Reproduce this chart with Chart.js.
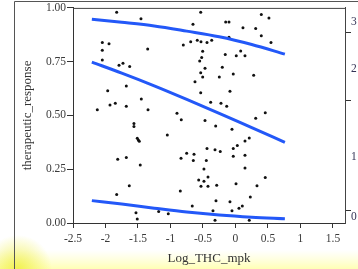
<!DOCTYPE html>
<html>
<head>
<meta charset="utf-8">
<script src="https://cdn.jsdelivr.net/npm/chart.js@4"></script>
<style>
html,body{margin:0;padding:0;background:#fff;}
#wrap{width:358px;height:269px;position:relative;}
</style>
</head>
<body>
<div id="wrap"><canvas id="c" width="358" height="269"></canvas></div>
<script>
// Scatter data: Log_THC_mpk vs therapeutic_response
const thcX = [-1.828,-1.454,-2.049,-1.946,-2.049,-1.351,-0.803,-2.049,-1.792,-1.731,-1.628,-1.680,-1.966,-1.449,-1.931,-1.849,-1.680,-2.126,-1.346,-0.900,
  -1.562,-1.562,-1.511,-1.495,-1.480,-1.049,-0.834,-1.812,-1.680,-1.465,-0.838,-1.634,-1.828,-0.849,-1.531,-1.511,-1.182,-1.034,
  -0.535,0.397,0.515,-0.654,-0.151,-0.100,0.115,0.311,0.397,-0.100,-0.689,-0.588,-0.531,-0.438,-0.366,0.546,-0.505,-0.157,0.012,0.080,0.146,
  -0.520,-0.551,-0.469,-0.203,-0.535,-0.505,-0.249,-0.034,0.280,-0.623,-0.535,-0.085,-0.382,-0.223,-0.135,0.458,-0.469,-0.305,-0.054,0.311,
  -0.751,-0.638,-0.649,-0.438,-0.315,-0.234,-0.449,-0.034,0.028,0.146,0.212,-0.034,0.146,-0.485,0.146,-0.423,-0.485,-0.566,-0.531,-0.423,
  -0.289,0.008,0.331,0.458,0.228,-0.665,-0.300,-0.085,-0.346,-0.054,0.054,0.105,-0.315,0.212];
const respY = [0.980,0.949,0.839,0.833,0.803,0.809,0.828,0.758,0.733,0.743,0.727,0.637,0.615,0.577,0.549,0.557,0.543,0.526,0.526,0.510,
  0.463,0.449,0.394,0.386,0.380,0.409,0.480,0.296,0.304,0.270,0.301,0.173,0.133,0.149,0.048,0.019,0.053,0.043,
  0.980,0.969,0.953,0.924,0.935,0.935,0.908,0.904,0.870,0.864,0.843,0.850,0.843,0.839,0.850,0.839,0.799,0.783,0.778,0.800,0.778,
  0.769,0.753,0.720,0.724,0.698,0.679,0.679,0.693,0.687,0.657,0.606,0.613,0.561,0.557,0.543,0.512,0.476,0.451,0.436,0.487,
  0.324,0.320,0.290,0.346,0.341,0.332,0.290,0.346,0.360,0.381,0.395,0.310,0.315,0.251,0.256,0.214,0.194,0.200,0.171,0.171,
  0.175,0.183,0.173,0.211,0.121,0.079,0.104,0.099,0.057,0.057,0.068,0.079,0.013,0.013];

// Fitted curve and confidence band
const curveX  = [-2.21, -1.75, -1.25, -0.75, -0.25, 0.25, 0.76];
const upperY  = [0.947, 0.933, 0.916, 0.892, 0.866, 0.830, 0.785];
const fitY    = [0.748, 0.697, 0.638, 0.575, 0.510, 0.443, 0.375];
const lowerY  = [0.104, 0.088, 0.069, 0.051, 0.037, 0.027, 0.020];

// Axis ticks
const xTicks = [-2.5, -2, -1.5, -1, -0.5, 0, 0.5, 1, 1.5];
const yTicks = [0, 0.25, 0.5, 0.75, 1];
const rightLabels = ['3', '2', '1', '0'];
const rightLabelVals = [0.935, 0.718, 0.306, 0.028];
const rightMarkVals = [0.884, 0.569, 0.056];

const SERIF = "'Liberation Serif', 'Times New Roman', serif";
const BLUE = 'rgb(35,88,248)';

const pts = thcX.map((x, i) => ({x: x, y: respY[i]}));
const mk = arr => curveX.map((x, i) => ({x: x, y: arr[i]}));

const rightTickList = rightLabelVals.map((v, i) => ({value: v, lab: rightLabels[i]}))
  .concat(rightMarkVals.map(v => ({value: v, lab: ''})));

const framePlugin = {
  id: 'frame',
  beforeDraw(chart) {
    const c = chart.ctx;
    const W = chart.width, H = chart.height;
    c.save();
    c.fillStyle = '#fff';
    c.fillRect(0, 0, W, H);
    let g = c.createLinearGradient(0, 250, 0, H);
    g.addColorStop(0, 'rgba(255,255,200,0)');
    g.addColorStop(1, 'rgba(255,255,180,1)');
    c.fillStyle = g;
    c.fillRect(0, 250, W, H - 250);
    const r = c.createRadialGradient(18, H, 0, 18, H, 34);
    r.addColorStop(0, 'rgba(240,240,70,0.9)');
    r.addColorStop(1, 'rgba(240,240,70,0)');
    c.fillStyle = r;
    c.fillRect(0, H - 40, 60, 40);
    c.strokeStyle = '#555';
    c.lineWidth = 1;
    c.beginPath();
    c.moveTo(14.5, 1.5); c.lineTo(14.5, H);
    c.moveTo(14.5, 1.5); c.lineTo(W, 1.5);
    c.stroke();
    c.restore();
  },
  afterDraw(chart) {
    const a = chart.chartArea, c = chart.ctx;
    c.save();
    c.strokeStyle = '#444';
    c.lineWidth = 1;
    c.beginPath();
    c.moveTo(a.left, a.top + 0.5); c.lineTo(a.right, a.top + 0.5);
    c.stroke();
    c.restore();
  }
};

new Chart(document.getElementById('c'), {
  type: 'scatter',
  data: {
    datasets: [
      {type: 'line', data: mk(upperY), borderColor: BLUE, borderWidth: 3, pointRadius: 0, fill: false, cubicInterpolationMode: 'monotone'},
      {type: 'line', data: mk(fitY), borderColor: BLUE, borderWidth: 3, pointRadius: 0, fill: false, cubicInterpolationMode: 'monotone'},
      {type: 'line', data: mk(lowerY), borderColor: BLUE, borderWidth: 3, pointRadius: 0, fill: false, cubicInterpolationMode: 'monotone'},
      {data: pts, backgroundColor: '#111', borderWidth: 0, pointRadius: 1.5, pointStyle: 'circle'}
    ]
  },
  options: {
    responsive: false,
    animation: false,
    devicePixelRatio: 1,
    layout: {padding: {left: 0, right: 0, top: 7, bottom: 0}},
    plugins: {legend: {display: false}, tooltip: {enabled: false}},
    scales: {
      x: {
        type: 'linear', position: 'bottom', min: -2.5, max: 1.685,
        afterBuildTicks: s => { s.ticks = xTicks.map(v => ({value: v})); },
        afterFit: s => { s.height = 46; },
        ticks: {autoSkip: false, maxRotation: 0, padding: 4, color: '#3a3a3a',
          font: {family: SERIF, size: 11.5}, callback: v => String(v)},
        grid: {drawOnChartArea: false, tickLength: 5, tickColor: '#333'},
        border: {display: true, color: '#333', width: 1},
        title: {display: true, text: 'Log_THC_mpk', color: '#333',
          font: {family: SERIF, size: 13}, padding: {top: 0, bottom: 3}}
      },
      y: {
        type: 'linear', position: 'left', min: 0, max: 1,
        afterBuildTicks: s => { s.ticks = yTicks.map(v => ({value: v})); },
        afterFit: s => { s.width = 73; },
        ticks: {autoSkip: false, padding: 1, color: '#3a3a3a',
          font: {family: SERIF, size: 11.5}, callback: v => Number(v).toFixed(2)},
        grid: {drawOnChartArea: false, tickLength: 6, tickColor: '#333'},
        border: {display: true, color: '#333', width: 1},
        title: {display: true, text: 'therapeutic_response', color: '#333',
          font: {family: SERIF, size: 13}, padding: {top: 20, bottom: 0}}
      },
      y2: {
        type: 'linear', position: 'right', min: 0, max: 1,
        afterBuildTicks: s => { s.ticks = rightTickList.map(t => ({value: t.value})); },
        afterFit: s => { s.width = 13; },
        ticks: {autoSkip: false, padding: 0, color: '#333355',
          font: {family: SERIF, size: 11.5},
          callback: (v, i) => rightTickList[i] ? rightTickList[i].lab : ''},
        grid: {drawOnChartArea: false, tickLength: 6,
          tickColor: ctx => (ctx.tick && rightTickList[ctx.index] && rightTickList[ctx.index].lab === '') ? '#333' : 'rgba(0,0,0,0)'},
        border: {display: true, color: '#444', width: 1}
      }
    }
  },
  plugins: [framePlugin]
});
</script>
</body>
</html>
